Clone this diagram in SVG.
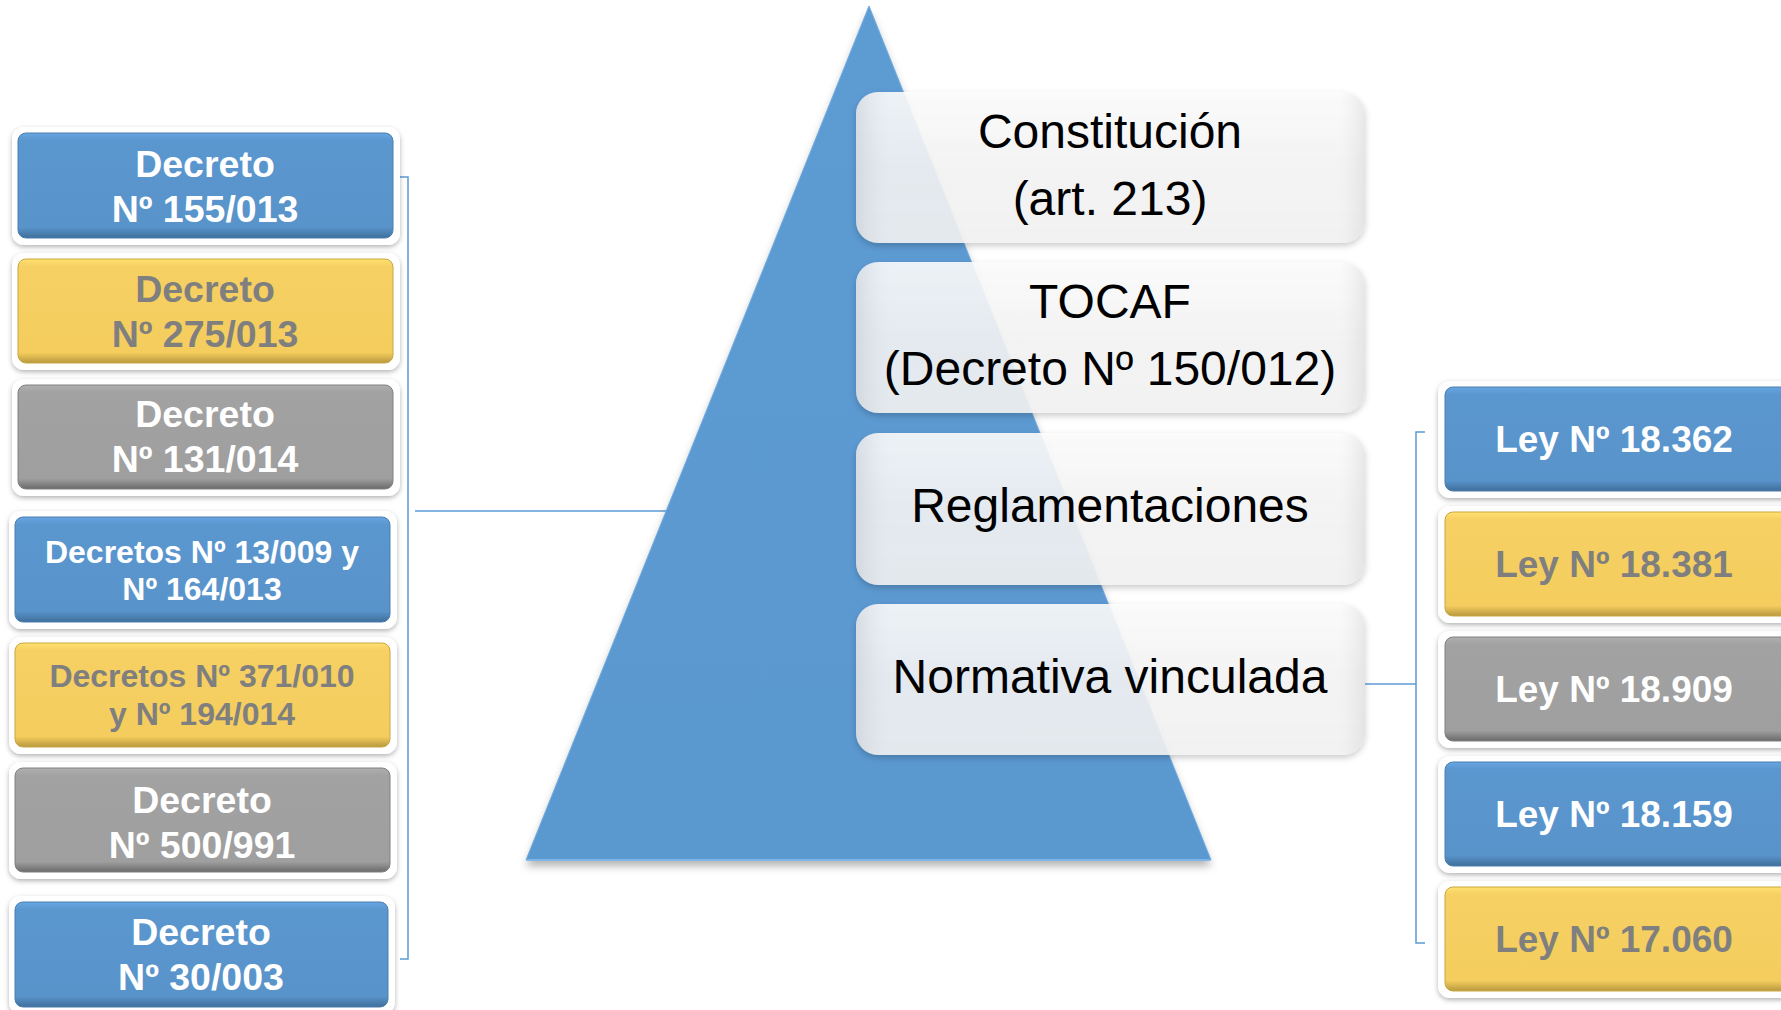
<svg xmlns="http://www.w3.org/2000/svg" width="1781" height="1010" viewBox="0 0 1781 1010">
  <style>
    .frame { fill: #ffffff; filter: url(#sh); }
    .blue { fill: url(#gBlue); stroke: #4a7fb0; stroke-width: 1; }
    .yellow { fill: url(#gYellow); stroke: #c9a640; stroke-width: 1; }
    .gray { fill: url(#gGray); stroke: #808080; stroke-width: 1; }
    .tw { font-family: "Liberation Sans", Arial, sans-serif; font-weight: bold; fill: #ffffff; text-anchor: middle; }
    .tg { font-family: "Liberation Sans", Arial, sans-serif; font-weight: bold; fill: #7f7f7f; text-anchor: middle; }
    .tc { font-family: "Liberation Sans", Arial, sans-serif; font-size: 48px; fill: #000000; text-anchor: middle; }
    .cbox { fill: url(#gWhite); filter: url(#sh2); }
    .cside { fill: url(#gSide); }
    .conn { stroke: #5b9bd5; stroke-width: 1.5; fill: none; }
  </style>
  <defs>
    <filter id="sh" x="-10%" y="-10%" width="120%" height="130%">
      <feDropShadow dx="0" dy="2" stdDeviation="2.5" flood-color="#000" flood-opacity="0.3"/>
    </filter>
    <filter id="sh2" x="-10%" y="-10%" width="120%" height="130%">
      <feDropShadow dx="0" dy="3" stdDeviation="3" flood-color="#000" flood-opacity="0.22"/>
    </filter>
    <filter id="shT" x="-10%" y="-10%" width="120%" height="120%">
      <feDropShadow dx="0" dy="6" stdDeviation="4" flood-color="#000" flood-opacity="0.3"/>
    </filter>
    <linearGradient id="gBlue" x1="0" y1="0" x2="0" y2="1">
      <stop offset="0" stop-color="#66a6e2"/>
      <stop offset="0.07" stop-color="#5b97cf"/>
      <stop offset="0.9" stop-color="#5893ca"/>
      <stop offset="1" stop-color="#3f6e9a"/>
    </linearGradient>
    <linearGradient id="gYellow" x1="0" y1="0" x2="0" y2="1">
      <stop offset="0" stop-color="#ffe170"/>
      <stop offset="0.07" stop-color="#f6d063"/>
      <stop offset="0.9" stop-color="#f4cd5e"/>
      <stop offset="1" stop-color="#b8993f"/>
    </linearGradient>
    <linearGradient id="gGray" x1="0" y1="0" x2="0" y2="1">
      <stop offset="0" stop-color="#b0b0b0"/>
      <stop offset="0.07" stop-color="#a2a2a2"/>
      <stop offset="0.9" stop-color="#9f9f9f"/>
      <stop offset="1" stop-color="#6a6a6a"/>
    </linearGradient>
    <linearGradient id="gWhite" x1="0" y1="0" x2="0" y2="1">
      <stop offset="0" stop-color="#fcfcfc" stop-opacity="0.9"/>
      <stop offset="0.5" stop-color="#f5f5f5" stop-opacity="0.88"/>
      <stop offset="1" stop-color="#f2f2f2" stop-opacity="0.9"/>
    </linearGradient>
    <linearGradient id="gSide" x1="0" y1="0" x2="1" y2="0">
      <stop offset="0" stop-color="#b8bec8" stop-opacity="0.4"/>
      <stop offset="0.07" stop-color="#dde2e8" stop-opacity="0"/>
      <stop offset="0.95" stop-color="#dddddd" stop-opacity="0"/>
      <stop offset="1" stop-color="#c8c8c8" stop-opacity="0.35"/>
    </linearGradient>
    <linearGradient id="gTri" x1="0" y1="0" x2="0" y2="1">
      <stop offset="0" stop-color="#5d9bd3"/>
      <stop offset="1" stop-color="#5a98d0"/>
    </linearGradient>
  </defs>

  <rect width="1781" height="1010" fill="#ffffff"/>

  <g id="connectors">
    <polyline class="conn" points="400,177 408,177 408,959 400,959"/>
    <line class="conn" x1="415" y1="511" x2="670" y2="511"/>
    <polyline class="conn" points="1425,432 1416,432 1416,943 1425,943"/>
    <line class="conn" x1="1365" y1="684" x2="1416" y2="684"/>
  </g>

  <g id="pyramid">
    <polygon points="869,6 1211,860 526,860" fill="url(#gTri)" filter="url(#shT)"/>
    <polygon points="869,6 1211,860 526,860" fill="none" stroke="#6eaae0" stroke-width="1"/>
    <line x1="527" y1="860" x2="1210" y2="860" stroke="#7fb6ea" stroke-width="2"/>
  </g>

  <g id="constitucion">
    <rect class="cbox" x="856" y="92" width="509" height="151" rx="22"/>
    <rect class="cside" x="856" y="92" width="509" height="151" rx="22"/>
    <text class="tc" x="1110" y="148">Constitución</text>
    <text class="tc" x="1110" y="215">(art. 213)</text>
  </g>
  <g id="tocaf">
    <rect class="cbox" x="856" y="262" width="509" height="151" rx="22"/>
    <rect class="cside" x="856" y="262" width="509" height="151" rx="22"/>
    <text class="tc" x="1110" y="318">TOCAF</text>
    <text class="tc" x="1110" y="385">(Decreto Nº 150/012)</text>
  </g>
  <g id="reglamentaciones">
    <rect class="cbox" x="856" y="433" width="509" height="152" rx="22"/>
    <rect class="cside" x="856" y="433" width="509" height="152" rx="22"/>
    <text class="tc" x="1110" y="522">Reglamentaciones</text>
  </g>
  <g id="normativa">
    <rect class="cbox" x="856" y="604" width="509" height="151" rx="22"/>
    <rect class="cside" x="856" y="604" width="509" height="151" rx="22"/>
    <text class="tc" x="1110" y="693">Normativa vinculada</text>
  </g>

  <g id="d155">
    <rect class="frame" x="12" y="127" width="388" height="118" rx="12"/>
    <rect class="blue" x="18" y="133" width="375" height="105" rx="8"/>
    <text class="tw" font-size="37.5" x="205" y="177">Decreto</text>
    <text class="tw" font-size="37.5" x="205" y="222">Nº 155/013</text>
  </g>
  <g id="d275">
    <rect class="frame" x="12" y="253" width="388" height="117" rx="12"/>
    <rect class="yellow" x="18" y="259" width="375" height="104" rx="8"/>
    <text class="tg" font-size="37.5" x="205" y="302">Decreto</text>
    <text class="tg" font-size="37.5" x="205" y="347">Nº 275/013</text>
  </g>
  <g id="d131">
    <rect class="frame" x="12" y="379" width="388" height="117" rx="12"/>
    <rect class="gray" x="18" y="385" width="375" height="104" rx="8"/>
    <text class="tw" font-size="37.5" x="205" y="427">Decreto</text>
    <text class="tw" font-size="37.5" x="205" y="472">Nº 131/014</text>
  </g>
  <g id="d13">
    <rect class="frame" x="9" y="511" width="388" height="118" rx="12"/>
    <rect class="blue" x="15" y="517" width="375" height="105" rx="8"/>
    <text class="tw" font-size="32" x="202" y="563">Decretos Nº 13/009 y</text>
    <text class="tw" font-size="32" x="202" y="600">Nº 164/013</text>
  </g>
  <g id="d371">
    <rect class="frame" x="9" y="637" width="388" height="117" rx="12"/>
    <rect class="yellow" x="15" y="643" width="375" height="104" rx="8"/>
    <text class="tg" font-size="32" x="202" y="687">Decretos Nº 371/010</text>
    <text class="tg" font-size="32" x="202" y="725">y Nº 194/014</text>
  </g>
  <g id="d500">
    <rect class="frame" x="9" y="762" width="388" height="117" rx="12"/>
    <rect class="gray" x="15" y="768" width="375" height="104" rx="8"/>
    <text class="tw" font-size="37.5" x="202" y="813">Decreto</text>
    <text class="tw" font-size="37.5" x="202" y="858">Nº 500/991</text>
  </g>
  <g id="d30">
    <rect class="frame" x="9" y="896" width="386" height="118" rx="12"/>
    <rect class="blue" x="15" y="902" width="373" height="105" rx="8"/>
    <text class="tw" font-size="37.5" x="201" y="945">Decreto</text>
    <text class="tw" font-size="37.5" x="201" y="990">Nº 30/003</text>
  </g>

  <g id="l18362">
    <rect class="frame" x="1438" y="381" width="360" height="117" rx="12"/>
    <rect class="blue" x="1445" y="387" width="360" height="104" rx="8"/>
    <text class="tw" font-size="37" x="1614" y="452">Ley Nº 18.362</text>
  </g>
  <g id="l18381">
    <rect class="frame" x="1438" y="506" width="360" height="117" rx="12"/>
    <rect class="yellow" x="1445" y="512" width="360" height="104" rx="8"/>
    <text class="tg" font-size="37" x="1614" y="577">Ley Nº 18.381</text>
  </g>
  <g id="l18909">
    <rect class="frame" x="1438" y="631" width="360" height="117" rx="12"/>
    <rect class="gray" x="1445" y="637" width="360" height="104" rx="8"/>
    <text class="tw" font-size="37" x="1614" y="702">Ley Nº 18.909</text>
  </g>
  <g id="l18159">
    <rect class="frame" x="1438" y="756" width="360" height="117" rx="12"/>
    <rect class="blue" x="1445" y="762" width="360" height="104" rx="8"/>
    <text class="tw" font-size="37" x="1614" y="827">Ley Nº 18.159</text>
  </g>
  <g id="l17060">
    <rect class="frame" x="1438" y="881" width="360" height="117" rx="12"/>
    <rect class="yellow" x="1445" y="887" width="360" height="104" rx="8"/>
    <text class="tg" font-size="37" x="1614" y="952">Ley Nº 17.060</text>
  </g>
</svg>
